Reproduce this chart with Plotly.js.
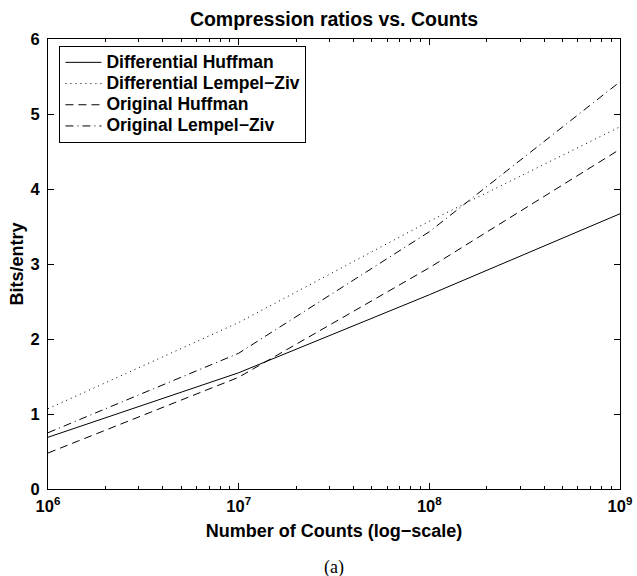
<!DOCTYPE html>
<html>
<head>
<meta charset="utf-8">
<script src="https://cdn.plot.ly/plotly-3.0.1.min.js"></script>
<style>html,body{margin:0;padding:0;background:#fff;}#chart{width:637px;height:576px;}</style>
</head>
<body>
<div id="chart"></div>
<script>
// Data
const counts = [1e6, 1e7, 1e8, 1e9];
const diffHuffman = [0.69, 1.55, 2.59, 3.67];
const diffLempelZiv = [1.07, 2.22, 3.57, 4.83];
const origHuffman = [0.48, 1.49, 2.95, 4.53];
const origLempelZiv = [0.75, 1.81, 3.43, 5.43];
const seriesNames = ['Differential Huffman', 'Differential Lempel\u2212Ziv', 'Original Huffman', 'Original Lempel\u2212Ziv'];
const xTickVals = [1e6, 1e7, 1e8, 1e9];
const xTickText = ['10<sup>6</sup>', '10<sup>7</sup>', '10<sup>8</sup>', '10<sup>9</sup>'];
const yTickVals = [0, 1, 2, 3, 4, 5, 6];

const minorVals = [];
for (let d = 6; d < 9; d++) for (let k = 2; k <= 9; k++) minorVals.push(k * Math.pow(10, d));

const FONT = '"Liberation Sans", Arial, sans-serif';
const seriesY = [diffHuffman, diffLempelZiv, origHuffman, origLempelZiv];
const dashes = ['solid', '1px,4px', '8px,5px', '8px,4px,1px,4px'];

const traces = seriesY.map((ys, i) => ({
  x: counts, y: ys, name: '<span style="font-size:17.5px">' + seriesNames[i] + '</span>',
  type: 'scatter', mode: 'lines',
  line: {color: '#000', width: 1, dash: dashes[i]}
}));

const layout = {
  width: 637, height: 576,
  margin: {l: 48, r: 17, t: 39, b: 87},
  paper_bgcolor: '#fff', plot_bgcolor: '#fff',
  showlegend: true,
  title: {text: 'Compression ratios vs. Counts', font: {family: FONT, size: 19.5, weight: 'bold', color: '#000'},
          x: 0.5, xref: 'paper', xanchor: 'center', y: 1 - 19/576, yref: 'container', yanchor: 'middle'},
  xaxis: {
    type: 'log', range: [6, 9], tickmode: 'array', tickvals: xTickVals, ticktext: xTickText,
    ticks: 'inside', ticklen: 6, tickcolor: '#000', tickwidth: 1,
    minor: {tickmode: 'array', tickvals: minorVals, ticks: 'inside', ticklen: 3, tickcolor: '#000', showgrid: false},
    showline: true, linecolor: '#000', linewidth: 1, mirror: 'allticks', showgrid: false, zeroline: false,
    tickfont: {family: FONT, size: 16.5, weight: 'bold', color: '#000'},
    ticklabelstandoff: 2,
    title: {text: 'Number of Counts (log\u2212scale)', font: {family: FONT, size: 18, weight: 'bold', color: '#000'}, standoff: 10}
  },
  yaxis: {
    range: [0, 6], tickmode: 'array', tickvals: yTickVals,
    ticks: 'inside', ticklen: 6, tickcolor: '#000', tickwidth: 1,
    showline: true, linecolor: '#000', linewidth: 1, mirror: 'allticks', showgrid: false, zeroline: false,
    tickfont: {family: FONT, size: 16.5, weight: 'bold', color: '#000'},
    ticklabelstandoff: 4,
    title: {text: 'Bits/entry', font: {family: FONT, size: 18, weight: 'bold', color: '#000'}, standoff: 2}
  },
  legend: {
    x: 0.02, y: 0.985, xanchor: 'left', yanchor: 'top',
    bgcolor: '#fff', bordercolor: '#000', borderwidth: 1,
    font: {family: FONT, size: 14, weight: 'bold', color: '#000'},
    itemwidth: 36, tracegroupgap: 0
  },
  annotations: [{
    text: '(a)', xref: 'paper', yref: 'paper', x: 0.5, y: (489 - 567) / 450,
    xanchor: 'center', yanchor: 'middle', showarrow: false,
    font: {family: '"Liberation Serif", "Times New Roman", serif', size: 18, color: '#000'}
  }]
};

Plotly.newPlot('chart', traces, layout, {displayModeBar: false, staticPlot: true});
</script>
</body>
</html>
